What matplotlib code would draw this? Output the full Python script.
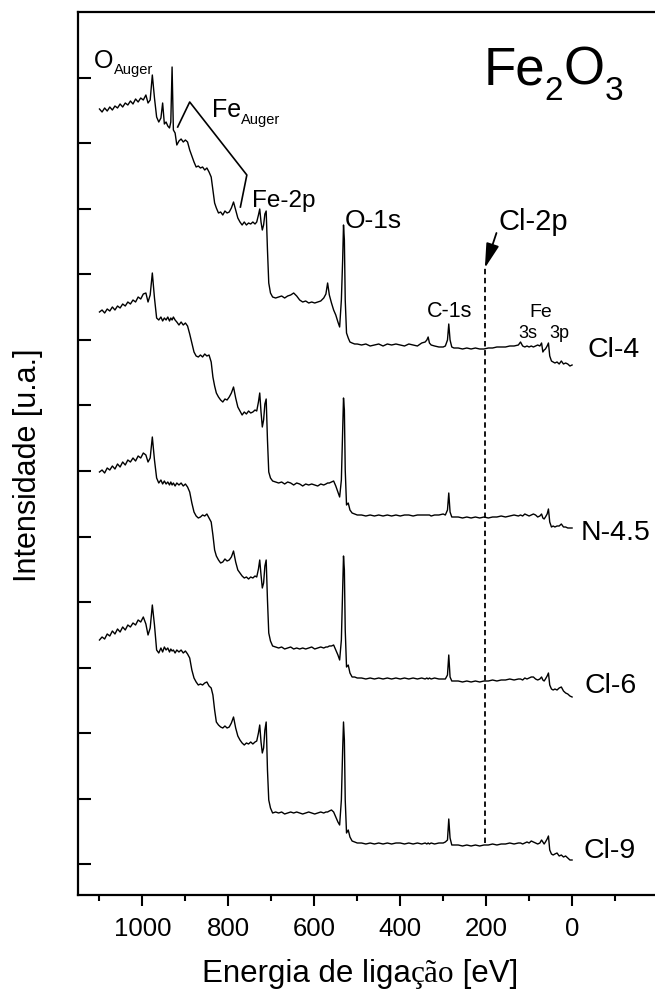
import matplotlib
matplotlib.use('Agg')
import matplotlib.pyplot as plt
from matplotlib.offsetbox import TextArea, HPacker, AnchoredOffsetbox
from matplotlib.transforms import offset_copy

plt.rcParams['font.family'] = ['Liberation Sans', 'DejaVu Sans']

# Binding energy grid [eV]
energy = [1100,1094,1088,1082,1076,1070,1064,1058,1052,1046,1040,1034,1028,1022,1016,1010,1004,998,
          992,987,982,977,972,967,962,957,953,949,945,941,937,934,931,928,924,920,
          915,910,905,900,895,890,885,880,875,870,865,860,855,850,845,840,
          836,832,828,823,818,813,808,803,798,793,788,783,778,773,768,763,758,753,748,743,738,734,
          730,727,724,721,718,715,712,709,706,702,697,
          690,683,676,669,662,655,648,641,634,627,620,613,606,599,592,585,578,
          573,569,565,560,555,550,545,541,537,534,532,530,528,525,521,517,512,506,500,
          490,480,470,460,450,440,430,420,410,400,390,380,370,360,350,
          342,338,335,332,328,320,310,300,295,290,287,284,280,275,
          265,255,245,235,225,215,205,195,185,175,165,155,145,135,125,
          120,115,110,105,100,95,90,85,80,75,71,68,65,62,58,55,52,48,44,40,35,30,25,20,15,10,5,0]

# Intensities (a.u., already vertically offset as in the figure)
cl4 = [791,788,792,789,793,790,794,792,796,793,797,795,799,796,801,798,802,800,
       805,797,800,825,802,783,778,782,797,776,778,774,772,778,833,770,767,755,
       759,761,758,760,758,750,744,738,733,734,732,733,730,732,728,723,
       710,697,692,687,688,685,689,687,688,692,698,690,682,678,675,678,675,677,676,678,676,678,
       685,691,678,670,675,686,689,650,617,607,603,
       602,603,604,602,604,605,607,604,600,598,599,597,598,597,598,599,602,
       606,617,605,597,590,585,578,573,600,640,675,660,600,567,562,558,557,556,556,
       555,556,554,555,556,554,556,555,556,555,554,556,555,554,557,
       558,560,563,557,555,554,553,553,554,560,576,560,553,552,
       552,551,552,551,552,551,551,552,552,553,553,553,554,554,555,
       558,554,553,554,553,554,553,554,555,554,557,548,550,551,554,557,544,539,538,537,538,536,539,536,537,536,534,535]

n45 = [588,590,587,591,589,593,590,594,592,596,594,598,596,600,598,603,601,606,
       607,598,605,627,602,582,580,583,579,582,580,583,579,582,580,583,580,578,
       575,578,575,577,574,566,557,548,544,543,545,543,546,544,545,538,
       523,514,507,503,500,498,501,500,503,507,513,502,493,489,485,488,486,489,487,488,490,489,
       498,507,488,473,480,496,501,460,428,422,419,
       418,417,418,416,418,417,415,417,416,414,416,415,416,415,414,416,415,
       416,417,417,418,419,414,408,403,420,470,502,490,430,395,397,390,387,386,385,
       385,384,385,384,385,384,385,384,385,384,385,385,384,385,385,
       385,385,385,385,384,385,385,386,385,390,407,388,383,383,
       383,382,383,382,383,382,383,382,383,383,384,383,384,385,384,
       385,384,386,385,384,385,386,385,383,384,386,382,381,383,386,391,378,373,374,373,374,374,376,373,373,372,372,372]

cl6 = [428,430,427,432,430,434,431,436,433,438,435,440,438,442,439,444,442,447,
       445,438,442,463,440,422,417,420,416,419,416,418,415,418,415,417,414,417,
       415,417,414,416,413,408,397,388,384,382,383,385,384,386,382,378,
       365,350,344,340,337,338,341,339,340,343,349,338,330,327,324,322,323,321,323,322,324,323,
       331,340,325,312,317,334,340,300,267,259,254,
       253,252,253,251,252,253,251,252,251,252,251,252,253,251,252,253,252,
       253,253,254,254,255,250,245,240,260,310,344,330,270,233,235,227,223,223,222,
       222,221,222,221,222,221,222,221,222,221,222,221,222,221,222,
       221,222,221,222,221,222,221,221,221,225,245,223,219,219,
       219,218,219,218,219,218,219,219,220,219,220,220,221,220,221,
       221,220,222,221,222,223,223,221,220,221,223,220,219,221,224,227,215,211,210,211,210,212,213,209,207,206,204,203]

cl9 = [260,263,261,266,264,269,266,271,268,273,270,275,273,277,275,280,278,283,
       276,265,272,295,275,250,247,252,248,253,250,252,248,251,249,250,247,250,
       248,250,247,249,246,242,230,222,218,215,216,215,217,218,214,212,
       205,190,178,175,173,172,174,172,173,177,183,172,164,160,157,155,157,156,158,156,158,159,
       167,175,158,147,152,170,178,130,100,92,87,
       88,87,88,86,87,88,87,88,87,86,87,88,87,86,87,88,87,
       88,88,89,90,88,83,78,75,100,150,178,160,100,67,70,63,59,58,57,
       57,56,57,56,57,56,57,56,57,57,56,57,56,57,56,
       57,56,57,56,57,56,57,57,58,60,81,62,55,55,
       55,54,55,54,55,54,55,55,56,55,56,56,57,56,57,
       57,56,57,58,57,59,58,57,56,57,60,58,56,58,61,64,50,46,45,46,47,44,45,43,44,42,40,40]

series = [cl4, n45, cl6, cl9]
series_names = ['Cl-4', 'N-4.5', 'Cl-6', 'Cl-9']
name_pos = [(-35, 543), (-19, 360), (-30, 207), (-26, 42)]

x_major = [1000, 800, 600, 400, 200, 0]
x_minor = [1100, 900, 700, 500, 300, 100, -100]
y_ticks = [36 + 65.5 * k for k in range(13)]

fig = plt.figure(figsize=(6.55, 9.97), dpi=100)
ax = fig.add_axes([78/655, 102/997, 580/655, 883/997])

for s in series:
    assert len(s) == len(energy)
    ax.plot(energy, s, color='black', lw=1.0)

ax.set_xlim(1150, -200)
ax.set_ylim(5, 888)

ax.set_xticks(x_major)
ax.set_xticklabels([str(v) for v in x_major])
ax.set_xticks(x_minor, minor=True)
ax.set_yticks(y_ticks)
ax.set_yticklabels([])
ax.tick_params(axis='x', which='major', direction='out', length=8, width=1.5,
               labelsize=18.5, pad=7.5)
ax.tick_params(axis='x', which='minor', direction='out', length=4.5, width=1.5)
ax.tick_params(axis='y', which='major', direction='in', length=9, width=1.5)
for sp in ['left', 'bottom', 'top']:
    ax.spines[sp].set_linewidth(1.6)
ax.spines['right'].set_visible(False)

renderer = fig.canvas.get_renderer()


def chain_text(x, y, parts):
    """Write pieces of text one after another (for subscripts)."""
    dx = 0.0
    for s, size, dy in parts:
        tr = offset_copy(ax.transData, fig=fig, x=dx, y=dy, units='points')
        t = ax.text(x, y, s, fontsize=size, transform=tr, ha='left', va='baseline')
        bb = t.get_window_extent(renderer)
        dx += bb.width * 72.0 / fig.dpi


# peak labels
chain_text(1112, 832, [('O', 18, 0), ('Auger', 10.5, -4.3)])
chain_text(839, 783, [('Fe', 18, 0), ('Auger', 10.5, -5)])
ax.plot([918, 890, 757, 772], [773, 798, 725, 693], color='black', lw=1.2)
ax.text(746, 693, 'Fe-2p', fontsize=17.5, ha='left', va='baseline')
ax.text(529, 672, 'O-1s', fontsize=19, ha='left', va='baseline')
ax.text(172, 670, 'Cl-2p', fontsize=21, ha='left', va='baseline')
ax.annotate('', xy=(203, 632), xytext=(176, 667),
            arrowprops=dict(arrowstyle='-|>,head_length=0.75,head_width=0.2',
                            lw=1.3, color='black', shrinkA=0, shrinkB=0,
                            mutation_scale=20))
ax.plot([203, 203], [57, 632], color='black', lw=1.3, ls=(0, (3, 2)))
ax.text(338, 583, 'C-1s', fontsize=15.5, ha='left', va='baseline')
ax.text(100, 583, 'Fe', fontsize=14, ha='left', va='baseline')
ax.text(126, 562, '3s', fontsize=13, ha='left', va='baseline')
ax.text(54, 562, '3p', fontsize=13, ha='left', va='baseline')
chain_text(207, 815, [('Fe', 38, 0), ('2', 24, -11), ('O', 38, 0), ('3', 24, -11)])

for name, (px, py) in zip(series_names, name_pos):
    ax.text(px, py, name, fontsize=20.5, ha='left', va='baseline')

# axis labels
fig.text(28/655, 1 - 465/997, 'Intensidade [u.a.]', rotation=90,
         ha='center', va='center', fontsize=22)

tp_sans = dict(fontfamily='Liberation Sans', fontsize=22.5)
tp_serif = dict(fontfamily='Liberation Serif', fontsize=22.5)
box = HPacker(children=[TextArea('Energia de liga', textprops=tp_sans),
                        TextArea('ção', textprops=tp_serif),
                        TextArea(' [eV]', textprops=tp_sans)],
              align='baseline', pad=0, sep=0)
anch = AnchoredOffsetbox(loc='center', child=box, frameon=False, pad=0,
                         bbox_to_anchor=(360/655, 1 - 974/997),
                         bbox_transform=fig.transFigure, borderpad=0)
fig.add_artist(anch)

fig.savefig('out.png', dpi=100)
